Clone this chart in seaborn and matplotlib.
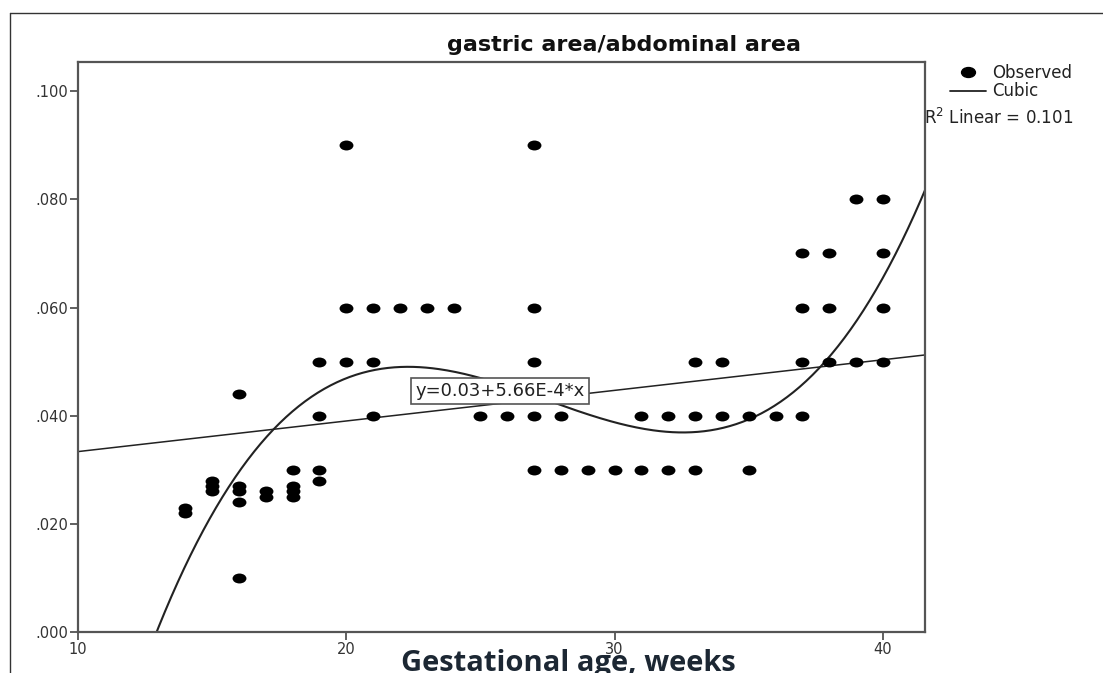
import numpy as np
import pandas as pd
import matplotlib
matplotlib.use("Agg")
import matplotlib.pyplot as plt
from matplotlib.path import Path
from matplotlib.markers import MarkerStyle
from matplotlib.transforms import Affine2D
from matplotlib.ticker import FuncFormatter, FixedLocator
from matplotlib.lines import Line2D
import seaborn as sns

# ---- data ----
weeks = [14, 14,
         15, 15, 15,
         16, 16, 16, 16, 16,
         17, 17,
         18, 18, 18, 18,
         19, 19, 19, 19,
         20, 20, 20,
         21, 21, 21,
         22, 23, 24, 25, 26,
         27, 27, 27, 27, 27,
         28, 28, 29, 30,
         31, 31, 32, 32,
         33, 33, 33,
         34, 34,
         35, 35, 36,
         37, 37, 37, 37,
         38, 38, 38,
         39, 39,
         40, 40, 40, 40]
ratio = [0.022, 0.023,
         0.026, 0.027, 0.028,
         0.044, 0.027, 0.026, 0.024, 0.010,
         0.025, 0.026,
         0.030, 0.027, 0.026, 0.025,
         0.050, 0.040, 0.030, 0.028,
         0.090, 0.060, 0.050,
         0.060, 0.050, 0.040,
         0.060, 0.060, 0.060, 0.040, 0.040,
         0.090, 0.060, 0.050, 0.040, 0.030,
         0.040, 0.030, 0.030, 0.030,
         0.040, 0.030, 0.040, 0.030,
         0.050, 0.040, 0.030,
         0.050, 0.040,
         0.040, 0.030, 0.040,
         0.070, 0.060, 0.050, 0.040,
         0.070, 0.060, 0.050,
         0.080, 0.050,
         0.080, 0.070, 0.060, 0.050]

# fitted curves as printed /
linear_coef = [0.0277, 5.66e-4]                       # intercept, slope
cubic_center = 27.0
cubic_coef = [0.04372, -1.7645e-3, -2.876e-5, 2.2566e-5]  # in (x - 27): c0, c1, c2, c3

title = "gastric area/abdominal area"
xlabel = "Gestational age, weeks"
equation = "y=0.03+5.66E-4*x"
r2_text = "R$^2$ Linear = 0.101"
x_ticks = [10, 20, 30, 40]
y_ticks = [0.0, 0.02, 0.04, 0.06, 0.08, 0.10]
x_limits = [10, 41.57]
y_limits = [0, 0.1054]

df = pd.DataFrame({"weeks": weeks, "ratio": ratio})

xs = np.linspace(x_limits[0], x_limits[1], 400)
t = xs - cubic_center
fit_df = pd.DataFrame({
    "x": xs,
    "linear": linear_coef[0] + linear_coef[1] * xs,
    "cubic": cubic_coef[0] + cubic_coef[1] * t + cubic_coef[2] * t ** 2 + cubic_coef[3] * t ** 3,
})

sns.set_theme(style="white")
plt.rcParams["font.family"] = ["DejaVu Sans"]

fig = plt.figure(figsize=(11.03, 6.73), dpi=100)
ax = fig.add_axes([78 / 1103, 1 - 632 / 673, (925 - 78) / 1103, (632 - 62) / 673])

ell = Path.unit_circle().transformed(Affine2D().scale(1.4, 1.0))
marker = MarkerStyle(ell)

sns.lineplot(data=fit_df, x="x", y="linear", ax=ax, color="#222222", lw=1.1, zorder=2)
sns.lineplot(data=fit_df, x="x", y="cubic", ax=ax, color="#222222", lw=1.5, zorder=2)
sns.scatterplot(data=df, x="weeks", y="ratio", ax=ax, marker=marker, s=100,
                color="black", edgecolor="black", linewidth=0, zorder=3, legend=False)
ax.set_xlim(*x_limits)
ax.set_ylim(*y_limits)

ax.text(25.73, 0.0445, equation, ha="center", va="center", fontsize=13,
        color="#222222", zorder=5,
        bbox=dict(boxstyle="square,pad=0.22", fc="white", ec="#555555", lw=1.2))

ax.xaxis.set_major_locator(FixedLocator(x_ticks))
ax.yaxis.set_major_locator(FixedLocator(y_ticks))
ax.yaxis.set_major_formatter(FuncFormatter(lambda v, p: f"{v:.3f}".lstrip("0")))
ax.tick_params(axis="both", which="major", direction="out", length=6, width=1.2,
               color="#444444", labelsize=10.5, labelcolor="#333333", pad=1,
               bottom=True, left=True)
for s in ax.spines.values():
    s.set_color("#555555")
    s.set_linewidth(1.6)
ax.set_xlabel("")
ax.set_ylabel("")
ax.grid(False)

fig.text(624 / 1103, 1 - 45 / 673, title, ha="center", va="center",
         fontsize=16, fontweight="bold", color="#111111")
fig.text(568 / 1103, 1 - 671 / 673, xlabel, ha="center", va="baseline",
         fontsize=21, fontweight="bold", color="#1c2733", family=["Open Sans", "DejaVu Sans"])

# legend-like annotations at right
fig.add_artist(Line2D([968 / 1103], [1 - 72 / 673], marker=marker, markersize=10,
                      color="black", transform=fig.transFigure, linestyle="none"))
fig.text(992 / 1103, 1 - 73 / 673, "Observed", ha="left", va="center", fontsize=12, color="#222222")
fig.add_artist(Line2D([950 / 1103, 986 / 1103], [1 - 91 / 673, 1 - 91 / 673],
                      color="#222222", lw=1.3, transform=fig.transFigure))
fig.text(992 / 1103, 1 - 91 / 673, "Cubic", ha="left", va="center", fontsize=12, color="#222222")
fig.text(924 / 1103, 1 - 118 / 673, r2_text, ha="left", va="center", fontsize=12, color="#222222")

# outer frame (top and left edges visible)
fig.add_artist(Line2D([10 / 1103, 1.0], [1 - 13 / 673, 1 - 13 / 673], color="#333333",
                      lw=1.0, transform=fig.transFigure))
fig.add_artist(Line2D([10 / 1103, 10 / 1103], [0.0, 1 - 13 / 673], color="#333333",
                      lw=1.0, transform=fig.transFigure))

fig.savefig("out.png", dpi=100)
